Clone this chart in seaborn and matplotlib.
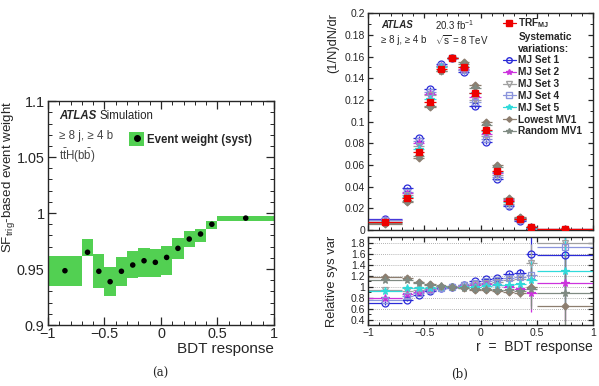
import numpy as np
import matplotlib
matplotlib.use("Agg")
import matplotlib.pyplot as plt
import seaborn as sns
from matplotlib.lines import Line2D
from matplotlib.patches import Patch
from matplotlib.ticker import MultipleLocator

# BDT response binning (shared by both panels)
bin_edges = [-1.0, -0.7, -0.6, -0.5, -0.4, -0.3, -0.2, -0.1, 0.0, 0.1, 0.2, 0.3, 0.4, 0.5, 1.0]

# (a) trigger SF based event weight and its syst band
sf_weight = [0.9485, 0.965, 0.948, 0.9387, 0.948, 0.9536, 0.9574, 0.956, 0.9604, 0.9685, 0.9768, 0.9813, 0.990, 0.9955]
sf_syst_lo = [0.935, 0.962, 0.933, 0.926, 0.935, 0.942, 0.943, 0.943, 0.945, 0.959, 0.970, 0.974, 0.986, 0.993]
sf_syst_hi = [0.962, 0.977, 0.963, 0.952, 0.961, 0.966, 0.969, 0.968, 0.971, 0.978, 0.984, 0.986, 0.993, 0.997]

# (b) nominal TRF_MJ shape, (1/N)dN/dr
trf_mj = [0.0071, 0.0295, 0.0721, 0.1182, 0.1485, 0.1586, 0.1503, 0.1261, 0.0923, 0.0546, 0.0270, 0.0104, 0.0025, 0.0006]
trf_rel_err = [0.06, 0.03, 0.02, 0.015, 0.012, 0.012, 0.012, 0.015, 0.02, 0.03, 0.05, 0.1, 0.3, 0.6]

# relative sys var (nominal / variation) per bin
ratio_mj_set1 = [0.70, 0.76, 0.85, 0.91, 0.97, 1.00, 1.03, 1.10, 1.14, 1.15, 1.22, 1.24, 1.59, 1.58]
ratio_mj_set2 = [0.80, 0.86, 0.90, 0.94, 0.98, 1.00, 1.01, 1.03, 1.04, 1.03, 0.99, 0.95, 0.88, 1.07]
ratio_mj_set3 = [0.94, 0.92, 0.93, 0.95, 0.98, 1.00, 1.02, 1.05, 1.07, 1.08, 1.11, 1.14, 1.42, 1.80]
ratio_mj_set4 = [0.76, 0.83, 0.88, 0.93, 0.98, 1.00, 1.02, 1.07, 1.10, 1.12, 1.15, 1.17, 1.21, 1.71]
ratio_mj_set5 = [0.92, 0.98, 0.97, 0.98, 0.99, 1.00, 1.00, 1.00, 1.01, 1.02, 1.03, 1.05, 1.12, 1.28]
ratio_lowest_mv1 = [1.18, 1.15, 1.08, 1.04, 1.01, 1.00, 0.97, 0.94, 0.93, 0.91, 0.90, 0.88, 1.00, 0.65]
ratio_random_mv1 = [1.12, 1.11, 1.06, 1.03, 1.01, 1.00, 0.98, 0.96, 0.95, 0.94, 0.93, 0.91, 0.95, 0.88]
ratio_err = [0.03, 0.03, 0.02, 0.015, 0.01, 0.01, 0.01, 0.015, 0.02, 0.03, 0.05, 0.07, 0.35, 0.7]

variations = [
    # label, ratios, color, marker, open
    ("MJ Set 1", ratio_mj_set1, "#2a2ad8", "o", True),
    ("MJ Set 2", ratio_mj_set2, "#cc33dd", "*", False),
    ("MJ Set 3", ratio_mj_set3, "#a0a0a0", "v", True),
    ("MJ Set 4", ratio_mj_set4, "#8a94dc", "s", True),
    ("MJ Set 5", ratio_mj_set5, "#30dada", "*", False),
    ("Lowest MV1", ratio_lowest_mv1, "#8c7d6e", "D", False),
    ("Random MV1", ratio_random_mv1, "#7f8a82", "*", False),
]

sns.set_style("ticks")
plt.rcParams["font.family"] = ["Liberation Sans", "DejaVu Sans"]
plt.rcParams["mathtext.fontset"] = "custom"
plt.rcParams["mathtext.rm"] = "Liberation Sans"
plt.rcParams["mathtext.it"] = "Liberation Sans:italic"
plt.rcParams["mathtext.bf"] = "Liberation Sans:bold"

edges = np.array(bin_edges)
centers = (edges[1:] + edges[:-1]) / 2
halfw = (edges[1:] - edges[:-1]) / 2


def root_ticks(ax, size, major, minor, xmaj, xmin, ymaj, ymin):
    ax.tick_params(which="both", direction="in", top=True, right=True, labelsize=size)
    ax.tick_params(which="major", length=major, width=0.9)
    ax.tick_params(which="minor", length=minor, width=0.7)
    ax.xaxis.set_major_locator(MultipleLocator(xmaj))
    ax.xaxis.set_minor_locator(MultipleLocator(xmin))
    ax.yaxis.set_major_locator(MultipleLocator(ymaj))
    ax.yaxis.set_minor_locator(MultipleLocator(ymin))
    for s in ax.spines.values():
        s.set_linewidth(1.0)


fig = plt.figure(figsize=(5.99, 3.86), dpi=100)

# ---------------- (a) ----------------
ax_a = fig.add_axes([0.0801, 0.158, 0.3773, 0.580])
green = "#52d052"
lo = np.array(sf_syst_lo)
hi = np.array(sf_syst_hi)
ax_a.bar(centers, hi - lo, bottom=lo, width=2 * halfw, color=green, linewidth=0)
sns.scatterplot(x=centers, y=sf_weight, color="black", s=16, edgecolor="none", ax=ax_a, zorder=3)
ax_a.set_xlim(-1, 1)
ax_a.set_ylim(0.9, 1.1)
root_ticks(ax_a, 10.4, 5.5, 3, 0.5, 0.1, 0.05, 0.01)
ax_a.tick_params(axis="x", pad=1.5)
ax_a.tick_params(axis="y", pad=2.5)
ax_a.yaxis.set_major_formatter(plt.FuncFormatter(lambda v, p: f"{v:g}"))
ax_a.xaxis.set_major_formatter(plt.FuncFormatter(lambda v, p: f"{v:g}".replace("-", "\u2212")))
ax_a.set_xlabel("BDT response", fontsize=11, loc="right")
ax_a.xaxis.set_label_coords(1.0, -0.078)
ax_a.set_ylabel(r"SF$_{\mathrm{trig}}$-based event weight", fontsize=9.6, loc="top")
ax_a.yaxis.set_label_coords(-0.137, 1.0)

ax_a.text(0.049, 0.933, "ATLAS", transform=ax_a.transAxes, fontsize=8.3,
          fontweight="bold", fontstyle="italic", va="center")
ax_a.text(0.226, 0.933, "Simulation", transform=ax_a.transAxes, fontsize=8.3, va="center")
ax_a.text(0.049, 0.844, "\u2265 8 j, \u2265 4 b", transform=ax_a.transAxes, fontsize=8.3,
          va="center", color="#444444")
ax_a.text(0.049, 0.754, r"$\mathrm{t\bar{t}H(b\bar{b})}$", transform=ax_a.transAxes,
          fontsize=8.3, va="center", color="#444444")

h_a = (Patch(facecolor=green, edgecolor="none"),
       Line2D([], [], color="black", marker="o", ms=4, lw=0))
fig.legend([h_a], ["Event weight (syst)"], loc="upper left",
           bbox_to_anchor=(0.215, 0.658), frameon=False, borderpad=0, borderaxespad=0,
           handlelength=1.35, handleheight=1.55, handletextpad=0.25,
           prop={"size": 8.3, "weight": "bold"})

# ---------------- (b) top ----------------
ax_t = fig.add_axes([0.6144, 0.404, 0.3756, 0.562])
ax_r = fig.add_axes([0.6144, 0.158, 0.3756, 0.228], sharex=ax_t)

nominal = np.array(trf_mj)
handles = []
labels = []
for label, ratio, color, marker, is_open in variations:
    ratio = np.array(ratio)
    vals = nominal / ratio
    ms = 5 if marker in "osvD" else 5.5
    if marker == "D":
        ms = 3.5
    mfc = "none" if is_open else color
    ax_t.errorbar(centers, vals, xerr=halfw, yerr=vals * np.array(trf_rel_err),
                  fmt=marker, color=color, mfc=mfc, mec=color, ms=ms,
                  lw=0.9, mew=0.9, capsize=0)
    ax_r.errorbar(centers, ratio, xerr=halfw, yerr=ratio_err,
                  fmt=marker, color=color, mfc=mfc, mec=color, ms=ms,
                  lw=0.9, mew=0.9, capsize=0)
    handles.append(Line2D([], [], color=color, marker=marker, mfc=mfc, mec=color,
                          ms=ms * 0.8, lw=0.9))
    labels.append(label)

ax_t.errorbar(centers, nominal, xerr=halfw, yerr=nominal * np.array(trf_rel_err),
              fmt="s", color="#ee0000", ms=4.5, lw=0.9, capsize=0, zorder=5)

ax_t.set_xlim(-1, 1)
ax_t.set_ylim(0, 0.2)
root_ticks(ax_t, 7.5, 3.5, 2, 0.5, 0.1, 0.02, 0.01)
ax_t.tick_params(labelbottom=False, pad=2)
ax_t.yaxis.set_major_formatter(plt.FuncFormatter(lambda v, p: f"{v:g}"))
ax_t.set_ylabel("(1/N)dN/dr", fontsize=9.3, loc="top")
ax_t.yaxis.set_label_coords(-0.128, 1.0)

ax_t.text(0.058, 0.945, "ATLAS", transform=ax_t.transAxes, fontsize=7,
          fontweight="bold", fontstyle="italic", va="center")
ax_t.text(0.298, 0.945, r"20.3 fb$^{-1}$", transform=ax_t.transAxes, fontsize=7, va="center")
ax_t.text(0.058, 0.876, "\u2265 8 j, \u2265 4 b", transform=ax_t.transAxes, fontsize=7, va="center")
ax_t.text(0.298, 0.876, r"$\sqrt{\mathrm{s}}$ = 8 TeV", transform=ax_t.transAxes, fontsize=7, va="center")

blank = Line2D([], [], lw=0, marker=None)
h_nom = Line2D([], [], color="#ee0000", marker="s", ms=4, lw=0.9)
fig.legend([h_nom, blank, blank] + handles,
           [r"TRF$_{\mathbf{MJ}}$", "Systematic", "variations:"] + labels,
           loc="upper left", bbox_to_anchor=(0.840, 0.958), frameon=False,
           borderpad=0, borderaxespad=0, handlelength=1.25, handletextpad=0.25,
           handleheight=0.7, labelspacing=0.18, prop={"size": 7.3, "weight": "bold"})

# ---------------- (b) ratio ----------------
ax_r.set_ylim(0.3, 1.9)
root_ticks(ax_r, 7.5, 3.5, 2, 0.5, 0.1, 0.2, 0.1)
ax_r.tick_params(pad=2)
for yv in np.arange(0.4, 1.81, 0.2):
    ax_r.axhline(yv, color="#999999", lw=0.6, ls=(0, (1, 1.5)), zorder=0)
ax_r.yaxis.set_major_formatter(plt.FuncFormatter(lambda v, p: f"{v:g}"))
ax_r.xaxis.set_major_formatter(plt.FuncFormatter(lambda v, p: f"{v:g}".replace("-", "\u2212")))
ax_r.set_ylabel("Relative sys var", fontsize=9.3)
ax_r.yaxis.set_label_coords(-0.135, 0.5)
ax_r.set_xlabel("r  =  BDT response", fontsize=10, loc="right")
ax_r.xaxis.set_label_coords(1.0, -0.17)

fig.text(160 / 599, 1 - 373 / 386, "(a)", family="DejaVu Serif", fontsize=8.5, ha="center", va="center")
fig.text(460 / 599, 1 - 374 / 386, "(b)", family="DejaVu Serif", fontsize=8.5, ha="center", va="center")

fig.savefig("out.png", dpi=100)
